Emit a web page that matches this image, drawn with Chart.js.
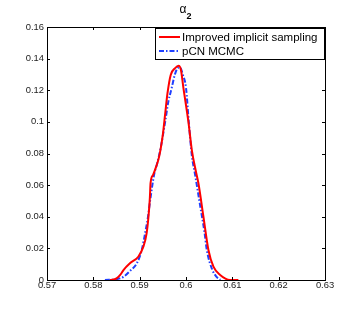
<!DOCTYPE html>
<html>
<head>
<meta charset="utf-8">
<script src="https://cdn.jsdelivr.net/npm/chart.js@4/dist/chart.umd.min.js"></script>
<style>
  html, body { margin: 0; padding: 0; background: #fff; }
  #wrap { width: 360px; height: 315px; }
</style>
</head>
<body>
<div id="wrap"><canvas id="densityChart" width="360" height="315"></canvas></div>
<script>
// Improved implicit sampling (red)
const implicitX = [0.5836, 0.5850, 0.5858, 0.5865, 0.5879, 0.5897, 0.5908, 0.5915, 0.5919, 0.5922,
  0.59235, 0.5929, 0.5936, 0.5942, 0.5950, 0.5955, 0.5960, 0.5967, 0.59765, 0.5984,
  0.5989, 0.59944, 0.60052, 0.60125, 0.60218, 0.60268, 0.60376, 0.60484, 0.60592, 0.60737,
  0.6095, 0.6113];
const implicitY = [0, 0.001, 0.0032, 0.0063, 0.0106, 0.0147, 0.0211, 0.0295, 0.040, 0.052,
  0.0612, 0.0665, 0.072, 0.078, 0.092, 0.105, 0.118, 0.1297, 0.134, 0.1355,
  0.133, 0.1215, 0.100, 0.0823, 0.068, 0.0612, 0.040, 0.019, 0.0084, 0.0032,
  0, 0];

// pCN MCMC (blue, dash-dot)
const pcnX = [0.5825, 0.5850, 0.5865, 0.5880, 0.5894, 0.59045, 0.59117, 0.5918, 0.59225, 0.59311,
  0.5938, 0.5945, 0.5955, 0.5962, 0.5969, 0.5976, 0.5982, 0.5987, 0.5993, 0.6000,
  0.6006, 0.60125, 0.60197, 0.6030, 0.6040, 0.60449, 0.6057, 0.6066, 0.6074];
const pcnY = [0, 0.0005, 0.002, 0.006, 0.0106, 0.019, 0.0295, 0.040, 0.050, 0.0665,
  0.074, 0.083, 0.100, 0.113, 0.1213, 0.130, 0.134, 0.1345, 0.130, 0.1215,
  0.100, 0.079, 0.0665, 0.048, 0.030, 0.019, 0.0063, 0.002, 0];

const seriesLabels = ["Improved implicit sampling", "pCN MCMC"];
const xMin = 0.57, xMax = 0.63, xStep = 0.01;
const yMin = 0, yMax = 0.16, yStep = 0.02;

const FONT = "'Liberation Sans', Arial, Helvetica, sans-serif";

function toPoints(xs, ys) {
  return xs.map((x, i) => ({ x: x, y: ys[i] }));
}

function fmt(v) {
  return String(parseFloat(v.toFixed(2)));
}

// box, inward ticks, title and legend like the matlab figure
const matlabFrame = {
  id: "matlabFrame",
  afterDraw(chart) {
    const ctx = chart.ctx;
    const a = chart.chartArea;
    const xs = chart.scales.x;
    const ys = chart.scales.y;
    ctx.save();
    ctx.strokeStyle = "#000";
    ctx.lineWidth = 1;
    ctx.strokeRect(Math.round(a.left) + 0.5, Math.round(a.top) + 0.5,
      Math.round(a.right - a.left), Math.round(a.bottom - a.top));

    const tl = 3;
    ctx.beginPath();
    xs.ticks.forEach((t) => {
      const px = Math.round(xs.getPixelForValue(t.value)) + 0.5;
      ctx.moveTo(px, a.bottom); ctx.lineTo(px, a.bottom - tl);
      ctx.moveTo(px, a.top); ctx.lineTo(px, a.top + tl);
    });
    ys.ticks.forEach((t) => {
      const py = Math.round(ys.getPixelForValue(t.value)) + 0.5;
      ctx.moveTo(a.left, py); ctx.lineTo(a.left + tl, py);
      ctx.moveTo(a.right, py); ctx.lineTo(a.right - tl, py);
    });
    ctx.stroke();

    // title: alpha with bold subscript 2
    ctx.fillStyle = "#000";
    ctx.textBaseline = "alphabetic";
    ctx.font = "12px " + FONT;
    ctx.fillText("α", 179.5, 12.5);
    ctx.font = "bold 9px " + FONT;
    ctx.fillText("2", 186.5, 18.5);

    // legend
    const lx = 155.5, ly = 28.5, lw = 169, lh = 31;
    ctx.fillStyle = "#fff";
    ctx.fillRect(lx, ly, lw, lh);
    ctx.strokeRect(lx, ly, lw, lh);
    const rows = [
      { y: 37, color: "#ff0000", dash: [] },
      { y: 51, color: "#1f3fff", dash: [5, 2, 1.5, 2] },
    ];
    rows.forEach((r, i) => {
      ctx.beginPath();
      ctx.setLineDash(r.dash);
      ctx.strokeStyle = r.color;
      ctx.lineWidth = 2;
      ctx.moveTo(159, r.y);
      ctx.lineTo(180, r.y);
      ctx.stroke();
      ctx.setLineDash([]);
      ctx.fillStyle = "#000";
      ctx.font = "11.5px " + FONT;
      ctx.textBaseline = "middle";
      ctx.fillText(seriesLabels[i], 182, r.y + 0.5);
    });
    ctx.restore();
  },
};

const ctx = document.getElementById("densityChart").getContext("2d");

new Chart(ctx, {
  type: "scatter",
  data: {
    datasets: [
      {
        label: seriesLabels[0],
        data: toPoints(implicitX, implicitY),
        showLine: true,
        borderColor: "#ff0000",
        borderWidth: 2,
        pointRadius: 0,
        cubicInterpolationMode: "monotone",
      },
      {
        label: seriesLabels[1],
        data: toPoints(pcnX, pcnY),
        showLine: true,
        borderColor: "#1f3fff",
        borderWidth: 2,
        borderDash: [5, 2, 1.5, 2],
        pointRadius: 0,
        cubicInterpolationMode: "monotone",
      },
    ],
  },
  options: {
    responsive: false,
    animation: false,
    devicePixelRatio: 1,
    layout: { padding: { top: 27, right: 35, left: 0, bottom: 0 } },
    plugins: {
      legend: { display: false },
      tooltip: { enabled: false },
      title: { display: false },
    },
    scales: {
      x: {
        type: "linear",
        min: xMin,
        max: xMax,
        grid: { display: false, drawTicks: false, tickLength: 0 },
        border: { display: false },
        afterFit: (s) => { s.height = 35; },
        ticks: {
          stepSize: xStep,
          padding: 0,
          maxRotation: 0,
          color: "#222",
          font: { family: FONT, size: 9.4 },
          callback: (v) => fmt(v),
        },
      },
      y: {
        type: "linear",
        min: yMin,
        max: yMax,
        grid: { display: false, drawTicks: false, tickLength: 0 },
        border: { display: false },
        afterFit: (s) => { s.width = 47; },
        ticks: {
          stepSize: yStep,
          padding: 3,
          color: "#222",
          font: { family: FONT, size: 9.4 },
          callback: (v) => fmt(v),
        },
      },
    },
  },
  plugins: [matlabFrame],
});
</script>
</body>
</html>
